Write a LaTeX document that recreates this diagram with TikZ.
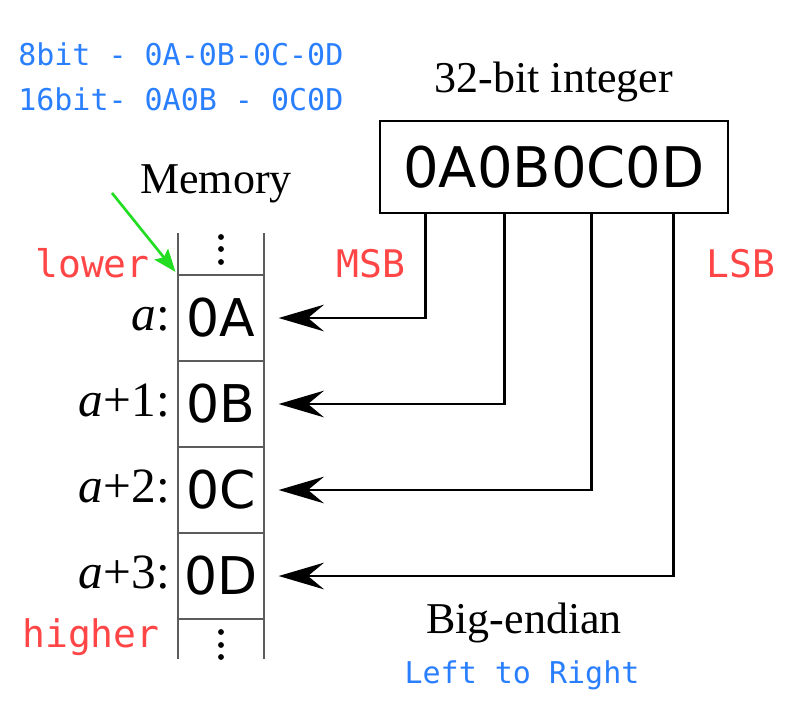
\documentclass[tikz,border=0pt]{standalone}
\usepackage{fontspec}
\setmainfont{Liberation Serif}
\newfontfamily\hexfont{DejaVu Sans}
\newfontfamily\codefont{DejaVu Sans Mono}
\usetikzlibrary{arrows.meta,positioning,calc}
\definecolor{noteblue}{HTML}{2A7FFF}
\definecolor{notered}{HTML}{FF4545}
\definecolor{notegreen}{HTML}{22DD22}
\definecolor{wallgray}{HTML}{5C5C5C}
\tikzset{
  note/.style={font=\codefont\fontsize{22.5}{27}\selectfont,text=noteblue,inner sep=0pt,anchor=base west},
  side/.style={font=\codefont\fontsize{28.5}{32}\selectfont,text=notered,inner sep=0pt,anchor=base west},
  title/.style={font=\fontsize{33}{36}\selectfont,inner sep=0pt,anchor=base},
  addr/.style={font=\fontsize{37}{40}\selectfont,inner sep=0pt,anchor=base east},
  hexbox/.style={draw,line width=2pt,fill=white,minimum width=261pt,minimum height=69pt,inner sep=0pt,font=\hexfont\fontsize{42}{44}\selectfont},
  cell/.style={draw=wallgray,line width=1.8pt,fill=white,minimum width=64.5pt,minimum height=64.5pt,inner sep=0pt,outer sep=0pt,font=\hexfont\fontsize{39}{40}\selectfont},
  wall/.style={draw=wallgray,line width=1.8pt},
  feed/.style={line width=1.9pt,-{Stealth[length=34pt,width=20pt,inset=12pt]},shorten >=11pt},
  pointer/.style={notegreen,line width=2pt,-{Stealth[length=17pt,width=13pt,inset=3pt]},shorten >=3pt}
}
\begin{document}
\begin{tikzpicture}[x=0.75pt,y=-0.75pt]
\fill[white] (0,0) rectangle (792,708);
\useasboundingbox (0,0) rectangle (792,708);
% notes
\node[note] (bytes) at (18,65) {8bit - 0A-0B-0C-0D};
\node[note] (words) at (18,110) {16bit- 0A0B - 0C0D};
% the integer
\node[hexbox] (word) at (554,167) {0A0B0C0D};
\node[title] (wordtitle) at ($(word.north)+(0,-27)$) {32-bit integer};
% memory
\node[cell] (cA) at (221,318) {0A};
\node[cell,below=0pt of cA] (cB) {0B};
\node[cell,below=0pt of cB] (cC) {0C};
\node[cell,below=0pt of cC] (cD) {0D};
\draw[wall] ($(cA.north west)+(0,-42)$) -- ($(cD.south west)+(0,40)$);
\draw[wall] ($(cA.north east)+(0,-42)$) -- ($(cD.south east)+(0,40)$);
\foreach \d in {13,26,38}{
  \fill ($(cA.north)+(0,-\d)$) circle(2.2pt);
  \fill ($(cD.south)+(0,\d)$) circle(2.2pt);
}
\node[addr] (aA) at ($(cA.west)+(-8,12)$) {\textit{a}:};
\node[addr] (aB) at ($(cB.west)+(-8,12)$) {\textit{a}+1:};
\node[addr] (aC) at ($(cC.west)+(-8,12)$) {\textit{a}+2:};
\node[addr] (aD) at ($(cD.west)+(-8,12)$) {\textit{a}+3:};
\node[title] (memtitle) at (216,193) {Memory};
\coordinate (memtail) at (112,193);
\draw[pointer] (memtail) -- (cA.north west);
% red marks
\node[side] (lower) at (35,277) {lower};
\node[side] (higher) at (22,647) {higher};
\node[side] (msb) at (336,277) {MSB};
\node[side] (lsb) at (706,277) {LSB};
% bytes into memory
\draw[feed] ($(word.south west)+(47,0)$) |- (cA.east);
\draw[feed] ($(word.south west)+(126,0)$) |- (cB.east);
\draw[feed] ($(word.south west)+(213,0)$) |- (cC.east);
\draw[feed] ($(word.south west)+(295,0)$) |- (cD.east);
\node[title] (order) at (524,633) {Big-endian};
\node[note,anchor=base] (ltr) at (522,683) {Left to Right};
\end{tikzpicture}
\end{document}
